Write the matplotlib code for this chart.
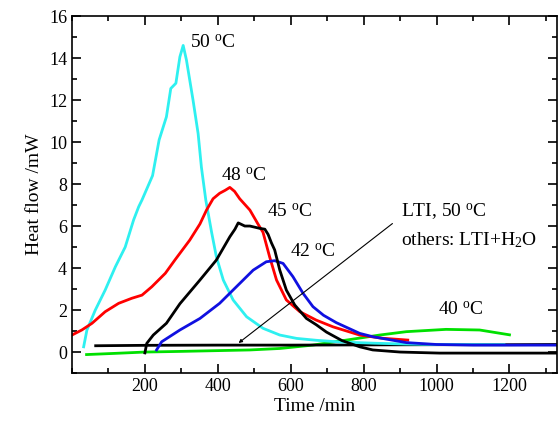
import matplotlib
matplotlib.use("Agg")
import matplotlib.pyplot as plt
from matplotlib.ticker import MultipleLocator

plt.rcParams['font.family'] = ['Liberation Serif', 'DejaVu Serif']
plt.rcParams['mathtext.fontset'] = 'custom'
plt.rcParams['mathtext.rm'] = 'Liberation Serif'
plt.rcParams['mathtext.it'] = 'Liberation Serif:italic'

# 50 C (cyan)
t50 = [32, 41, 64, 91, 119, 146, 169, 183, 192, 221, 239, 259, 271, 285, 296, 305, 314, 332, 346, 355,
       367, 383, 396, 415, 442, 479, 524, 570, 616, 670, 734, 830, 917, 1000, 1185]
q50 = [0.25, 1.05, 2.0, 2.95, 4.06, 5.0, 6.29, 6.92, 7.24, 8.4, 10.1, 11.2, 12.55, 12.8, 14.06, 14.6, 13.9, 12.0, 10.4, 8.8,
       7.24, 5.7, 4.54, 3.43, 2.48, 1.68, 1.13, 0.81, 0.65, 0.56, 0.48, 0.42, 0.38, 0.36, 0.35]

# 48 C (red)
t48 = [0, 27, 55, 91, 128, 164, 192, 219, 256, 283, 323, 351, 369, 387, 405, 420, 433, 446, 460, 488,
       510, 524, 542, 561, 588, 625, 670, 716, 789, 850, 921]
q48 = [0.81, 1.05, 1.37, 1.92, 2.32, 2.56, 2.71, 3.11, 3.75, 4.4, 5.33, 6.1, 6.76, 7.3, 7.56, 7.7, 7.84, 7.65, 7.3, 6.76,
       6.1, 5.7, 4.54, 3.43, 2.48, 1.92, 1.52, 1.2, 0.81, 0.66, 0.57]

# 45 C (black)
t45 = [200, 205, 223, 259, 296, 351, 396, 433, 447, 456, 474, 488, 515, 529, 538, 547,
       556, 570, 588, 611, 643, 670, 698, 740, 789, 825, 900, 1008, 1330]
q45 = [-0.04, 0.41, 0.81, 1.37, 2.3, 3.43, 4.38, 5.49, 5.85, 6.15, 6.0, 6.0, 5.89, 5.85, 5.6, 5.2,
       4.86, 3.9, 2.95, 2.24, 1.6, 1.3, 0.95, 0.55, 0.25, 0.1, 0.0, -0.05, -0.05]

# 42 C (blue)
t42 = [232, 246, 296, 351, 405, 451, 497, 533, 556, 579, 606, 634, 661, 690, 725, 789, 825, 917,
       1000, 1100, 1330]
q42 = [0.1, 0.49, 1.05, 1.6, 2.32, 3.11, 3.9, 4.3, 4.35, 4.22, 3.59, 2.79, 2.16, 1.75, 1.4, 0.89, 0.73, 0.45,
       0.36, 0.33, 0.33]

# 40 C (green)
t40 = [40, 122, 200, 296, 488, 570, 660, 753, 844, 917, 1026, 1118, 1200]
q40 = [-0.12, -0.06, 0.0, 0.03, 0.1, 0.17, 0.33, 0.57, 0.81, 0.97, 1.08, 1.05, 0.82]

# LTI, 50 C (black, flat)
tlti = [65, 200, 400, 600, 800, 1000, 1200, 1330]
qlti = [0.3, 0.32, 0.33, 0.33, 0.34, 0.35, 0.35, 0.36]

fig = plt.figure(figsize=(5.58, 4.22), dpi=100)
ax = fig.add_axes([0.129, 0.116, 0.869, 0.846])

lw = 2.0
ax.plot(t40, q40, color='#00e000', lw=lw)
ax.plot(tlti, qlti, color='black', lw=lw)
ax.plot(t50, q50, color='#2ef0f0', lw=lw)
ax.plot(t48, q48, color='#ff0000', lw=lw)
ax.plot(t42, q42, color='#1010e0', lw=lw)
ax.plot(t45, q45, color='black', lw=lw)

fs = 14
ax.text(325, 14.7, '50 $^\\mathrm{o}$C', fontsize=fs, va='center')
ax.text(410, 8.4, '48 $^\\mathrm{o}$C', fontsize=fs, va='center')
ax.text(535, 6.68, '45 $^\\mathrm{o}$C', fontsize=fs, va='center')
ax.text(597, 4.78, '42 $^\\mathrm{o}$C', fontsize=fs, va='center')
ax.text(1004, 2.0, '40 $^\\mathrm{o}$C', fontsize=fs, va='center')
ax.text(903, 6.68, 'LTI, 50 $^\\mathrm{o}$C', fontsize=fs, va='center')
ax.text(903, 5.33, 'others: LTI+H$_\\mathrm{2}$O', fontsize=fs, va='center')
ax.annotate('', xy=(451, 0.35), xytext=(885, 6.2),
            arrowprops=dict(arrowstyle='-|>', color='black', lw=0.8, mutation_scale=5))

ax.set_xlim(0, 1330)
ax.set_ylim(-1, 16)
ax.set_xticks([200, 400, 600, 800, 1000, 1200])
ax.set_yticks(range(0, 17, 2))
ax.xaxis.set_minor_locator(MultipleLocator(100))
ax.yaxis.set_minor_locator(MultipleLocator(1))
ax.tick_params(which='both', direction='in', top=True, right=True, labelsize=13, width=1.2)
ax.tick_params(which='major', length=6.5)
ax.tick_params(which='minor', length=3.5)
for s in ax.spines.values():
    s.set_linewidth(1.2)
ax.set_xlabel('Time /min', fontsize=14, labelpad=2)
ax.set_ylabel('Heat flow /mW', fontsize=14, labelpad=4)

fig.savefig('out.png', dpi=100)
